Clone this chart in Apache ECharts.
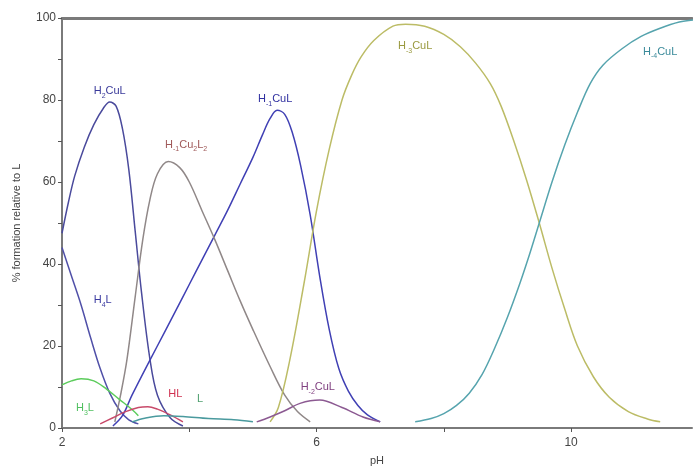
<!DOCTYPE html>
<html><head><meta charset="utf-8">
<script src="https://cdn.jsdelivr.net/npm/echarts@6/dist/echarts.min.js"></script>
<style>html,body{margin:0;padding:0;background:#fff}#c{width:693px;height:467px}</style>
</head><body><div id="c"></div>
<script>
// [pH, % formation]
const h2cul = [[2.0,47.5],[2.1,55],[2.2,61.5],[2.35,68.5],[2.5,74],[2.65,78],[2.75,79.5],[2.85,78.5],[2.95,73],[3.05,63],[3.15,48],[3.25,33],[3.38,17],[3.5,8],[3.7,2.5],[3.9,0.5]];
const h4l = [[2.0,44],[2.15,37],[2.3,30],[2.45,22],[2.6,14.5],[2.75,8.5],[2.91,4.2],[3.05,2],[3.2,1]];
const hm1cul = [[2.8,0.5],[2.95,3],[3.1,8],[3.38,16.5],[3.6,23],[3.8,29],[4.0,35],[4.2,41],[4.4,47],[4.6,53],[4.8,59.5],[5.0,66],[5.15,71.5],[5.27,75.5],[5.38,77.5],[5.5,76.5],[5.62,72],[5.75,64],[5.9,52],[6.05,37],[6.2,24],[6.35,14.5],[6.5,9],[6.65,5.5],[6.8,3.2],[7.0,1.5]];
const hm1cu2l2 = [[2.83,1.5],[2.92,8],[3.02,16.6],[3.15,32],[3.27,46],[3.38,55.6],[3.5,62],[3.67,65],[3.85,63.5],[4.0,60],[4.2,53],[4.4,46],[4.6,38.5],[4.8,31],[5.0,24],[5.27,15],[5.5,8],[5.7,4],[5.9,1.5]];
const hm3cul = [[5.27,1.5],[5.4,5],[5.58,16.6],[5.8,35],[6.0,53],[6.2,68],[6.4,80],[6.55,86],[6.7,90.5],[6.9,94.5],[7.2,98],[7.4,98.5],[7.7,98],[8.0,96],[8.26,93],[8.5,89],[8.73,84],[8.9,78.5],[9.1,70],[9.3,60.5],[9.5,50],[9.7,39],[9.9,29],[10.1,20],[10.35,12.5],[10.6,7.5],[10.9,4],[11.2,2.2],[11.4,1.5]];
const hm4cul = [[7.55,1.5],[7.8,2.3],[8.0,3.5],[8.2,5.5],[8.4,8.5],[8.6,13],[8.8,19.5],[9.0,27],[9.2,35.5],[9.35,42.5],[9.5,50],[9.7,60],[9.9,69],[10.1,77],[10.3,84],[10.5,88.5],[10.8,92.5],[11.1,95.5],[11.4,97.5],[11.7,99],[11.92,99.5]];
const h3l = [[2.0,10.5],[2.15,11.5],[2.3,12],[2.5,11.5],[2.7,9.5],[2.9,7],[3.1,4.5],[3.2,3]];
const hl = [[2.6,1],[2.8,2.5],[3.0,4],[3.2,5],[3.35,5.2],[3.5,4.6],[3.7,3.2],[3.9,1.5]];
const lFree = [[3.1,1.5],[3.3,2.4],[3.6,3],[3.9,2.8],[4.3,2.3],[4.7,2],[5.0,1.5]];
const hm2cul = [[5.06,1.5],[5.27,2.7],[5.5,4.2],[5.74,6],[6.05,6.8],[6.4,5],[6.73,2.7],[7.0,1.5]];
const xTickLabels = ['2','6','10'];
const yTickLabels = ['0','20','40','60','80','100'];

const chart = echarts.init(document.getElementById('c'));
const FONT = 'Liberation Sans, Arial, sans-serif';
function lab(parts, color) {
  const txt = parts.map(p => p[1] ? '{s|' + p[0] + '}' : '{n|' + p[0] + '}').join('');
  return {
    show: true, formatter: txt, position: 'inside',
    rich: {
      n: {fontSize: 11, color: color, fontFamily: FONT, lineHeight: 14, verticalAlign: 'bottom'},
      s: {fontSize: 7, color: color, fontFamily: FONT, lineHeight: 14, verticalAlign: 'bottom', padding: [0,0,-3,0]}
    }
  };
}
function mk(name, data, color, labelParts, labelColor, at) {
  return {
    name: name, type: 'line', data: data, smooth: 0.35, symbol: 'none',
    lineStyle: {color: color, width: 1.5}, z: 3,
    markPoint: {
      symbol: 'rect', symbolSize: 1, itemStyle: {color: 'rgba(0,0,0,0)'},
      silent: true, animation: false,
      label: lab(labelParts, labelColor),
      data: [{coord: at}]
    }
  };
}
chart.setOption({
  animation: false,
  backgroundColor: '#fff',
  grid: {left: 62, right: 1, top: 18, bottom: 39, outerBoundsMode: 'none', containLabel: false},
  xAxis: [{
    type: 'value', min: 2, max: 11.9, interval: 2,
    name: 'pH', nameLocation: 'middle', nameGap: 27,
    nameTextStyle: {color: '#444', fontSize: 11, fontFamily: FONT},
    axisLine: {lineStyle: {color: '#7a7a7a', width: 2}},
    axisTick: {show: true, length: 4, lineStyle: {color: '#555'}},
    splitLine: {show: false},
    axisLabel: {color: '#444', fontSize: 12, fontFamily: FONT, margin: 9,
      formatter: v => xTickLabels.indexOf(String(v)) >= 0 ? String(v) : '',
      showMaxLabel: false}
  }, {
    type: 'value', position: 'top', min: 2, max: 11.9,
    axisLine: {show: true, lineStyle: {color: '#7a7a7a', width: 3}},
    axisTick: {show: false}, axisLabel: {show: false}, splitLine: {show: false}
  }],
  yAxis: {
    type: 'value', min: 0, max: 100, interval: 10,
    name: '% formation relative to L', nameLocation: 'middle', nameGap: 40,
    nameTextStyle: {color: '#444', fontSize: 11, fontFamily: FONT},
    axisLine: {show: true, lineStyle: {color: '#7a7a7a', width: 2}},
    axisTick: {show: true, length: 4, lineStyle: {color: '#555'}},
    splitLine: {show: false},
    axisLabel: {color: '#444', fontSize: 12, fontFamily: FONT, margin: 6,
      formatter: v => yTickLabels.indexOf(String(v)) >= 0 ? String(v) : ''}
  },
  series: [
    mk('H2CuL', h2cul, '#4a4a9c', [['H',0],['2',1],['CuL',0]], '#3a3a9a', [2.75, 82.5]),
    mk('H4L', h4l, '#5050a8', [['H',0],['4',1],['L',0]], '#3a3aa0', [2.64, 31.5]),
    mk('H-1CuL', hm1cul, '#4040b4', [['H',0],['-1',1],['CuL',0]], '#3030a0', [5.35, 80.5]),
    mk('H-1Cu2L2', hm1cu2l2, '#908888', [['H',0],['-1',1],['Cu',0],['2',1],['L',0],['2',1]], '#a05a5a', [3.95, 69.5]),
    mk('H-3CuL', hm3cul, '#bcbc66', [['H',0],['-3',1],['CuL',0]], '#9a9a40', [7.55, 93.5]),
    mk('H-4CuL', hm4cul, '#56a4ae', [['H',0],['-4',1],['CuL',0]], '#3a8a9a', [11.4, 92.2]),
    mk('H3L', h3l, '#5ccc5c', [['H',0],['3',1],['L',0]], '#50c060', [2.36, 5.3]),
    mk('HL', hl, '#c84a6a', [['HL',0]], '#d03050', [3.78, 8.6]),
    mk('L', lFree, '#4a9a9e', [['L',0]], '#50a070', [4.17, 7.4]),
    mk('H-2CuL', hm2cul, '#8c5a92', [['H',0],['-2',1],['CuL',0]], '#804080', [6.02, 10.3])
  ]
});
</script></body></html>
